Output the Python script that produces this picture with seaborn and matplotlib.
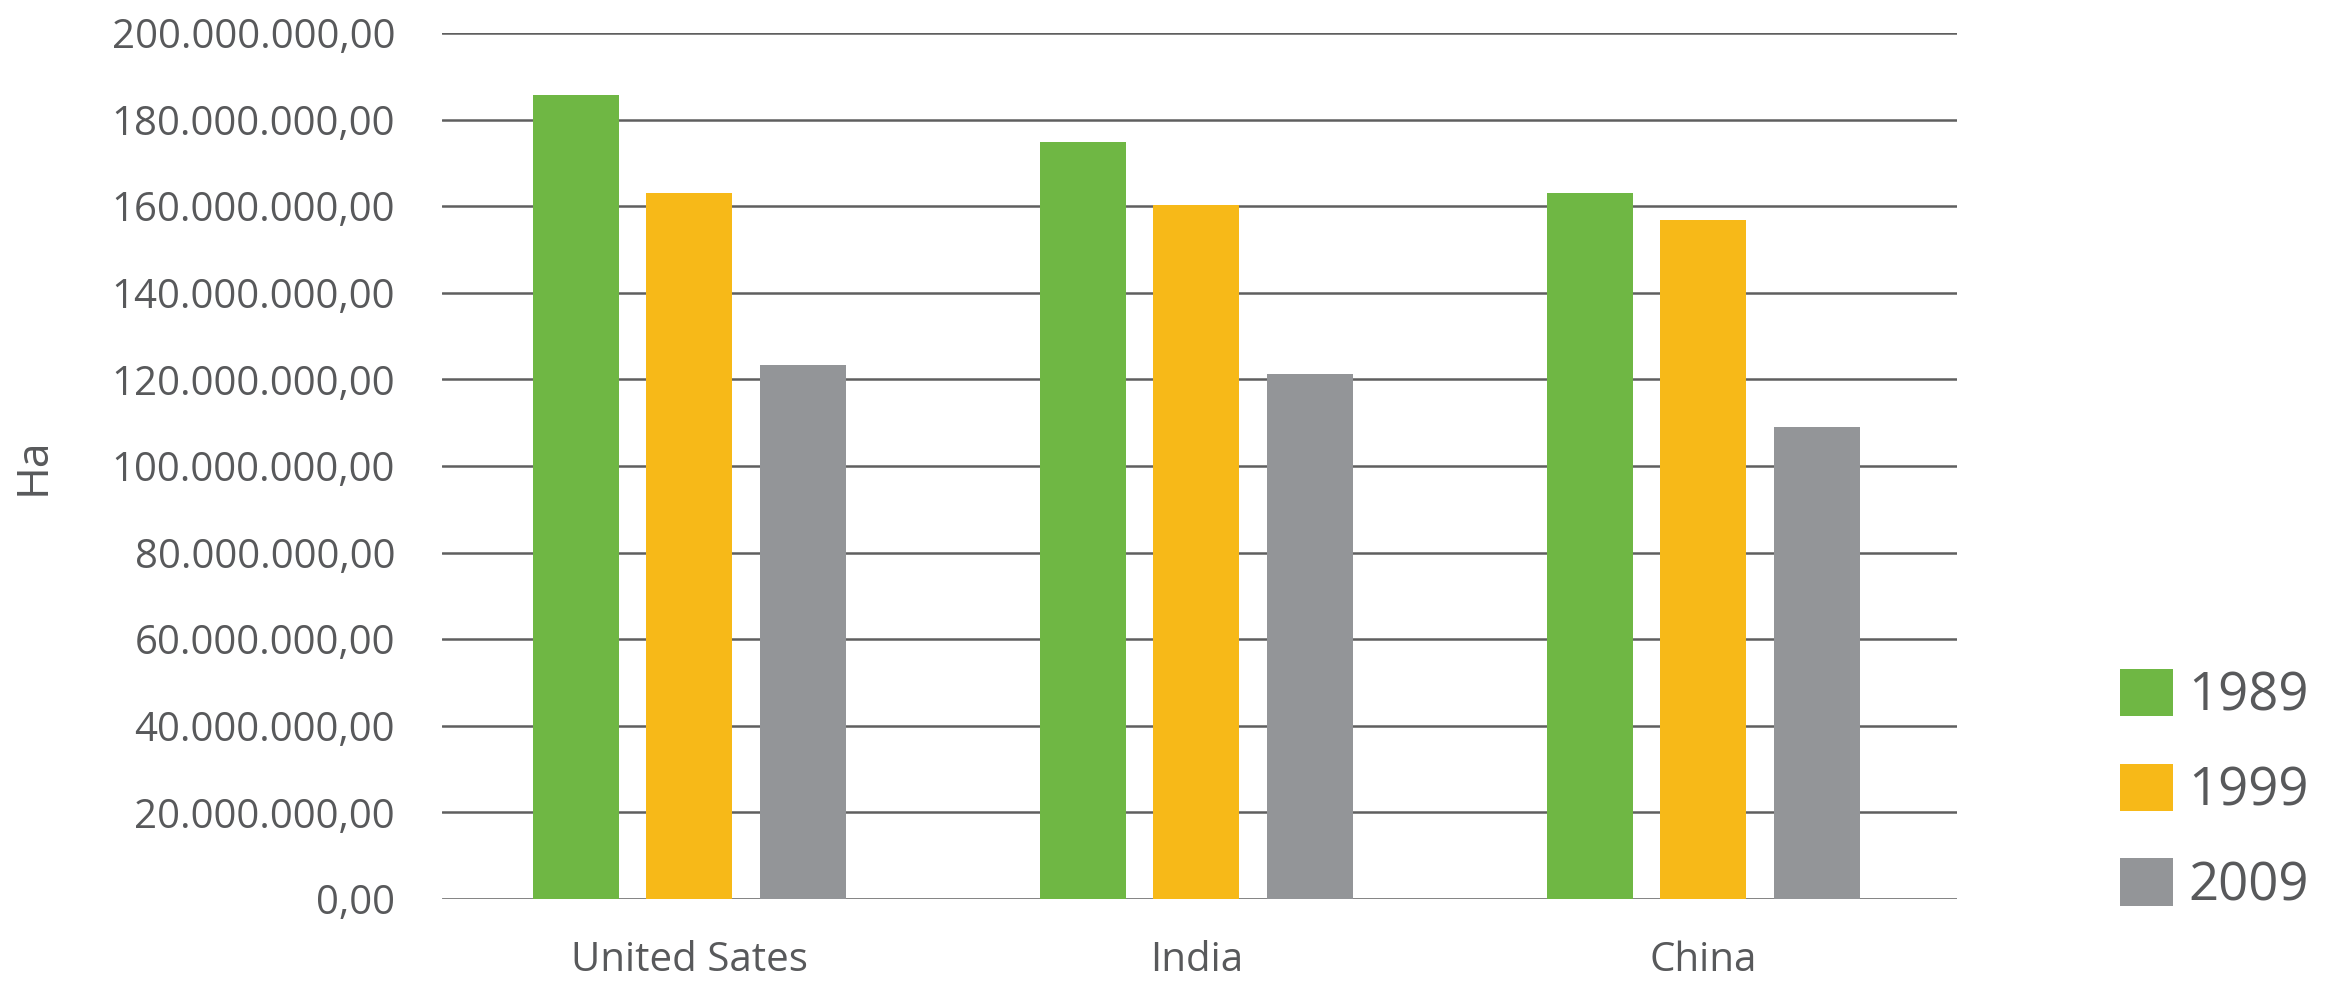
import pandas as pd
import matplotlib
matplotlib.use('Agg')
import matplotlib.pyplot as plt
from matplotlib.ticker import FuncFormatter, MultipleLocator
import seaborn as sns

# values (hectares)
countries = ['United Sates', 'India', 'China']
years = ['1989', '1999', '2009']
ha_1989 = [185.7e6, 174.8e6, 163.1e6]
ha_1999 = [163.0e6, 160.2e6, 156.8e6]
ha_2009 = [123.3e6, 121.2e6, 109.0e6]
colors = ['#6fb744', '#f7b918', '#939598']

rows = []
for yr, vals in zip(years, [ha_1989, ha_1999, ha_2009]):
    for c, v in zip(countries, vals):
        rows.append({'Country': c, 'Year': yr, 'Ha': v})
data = pd.DataFrame(rows)

sns.set_style('white')
plt.rcParams['font.family'] = ['Open Sans', 'DejaVu Sans']
text_col = '#58595b'

fig = plt.figure(figsize=(23.28, 9.82), dpi=100)
ax = fig.add_axes([0.19, 0.0845, 0.6506, 0.8819])

sns.barplot(data=data, x='Country', y='Ha', hue='Year', palette=colors,
            width=0.671, gap=0.24, saturation=1, linewidth=0, ax=ax, zorder=3)

ax.set_ylim(0, 200e6)
ax.set_xlim(-0.487, 2.5)
ax.yaxis.set_major_locator(MultipleLocator(20e6))
ax.yaxis.set_major_formatter(FuncFormatter(
    lambda v, p: f'{v:,.2f}'.replace(',', 'X').replace('.', ',').replace('X', '.')))
ax.grid(axis='y', color='#5f5f5f', linewidth=1.8, zorder=0)
ax.set_axisbelow(True)
for s in ax.spines.values():
    s.set_visible(False)

ax.tick_params(axis='y', length=0, pad=34, labelsize=29, labelcolor=text_col)
ax.tick_params(axis='x', length=0, pad=30, labelsize=29, labelcolor=text_col)
ax.set_xlabel('')
ax.set_ylabel('Ha', fontsize=32, color=text_col)
ax.yaxis.set_label_coords(-0.255, 0.5)

handles, labels = ax.get_legend_handles_labels()
ax.get_legend().remove()
fig.legend(handles, labels, loc='center left', bbox_to_anchor=(0.9107, 0.1945),
           frameon=False, fontsize=38, labelcolor=text_col,
           handlelength=1.0, handleheight=1.0, labelspacing=0.76,
           handletextpad=0.3, borderpad=0, borderaxespad=0)

fig.savefig('out.png', dpi=100)
